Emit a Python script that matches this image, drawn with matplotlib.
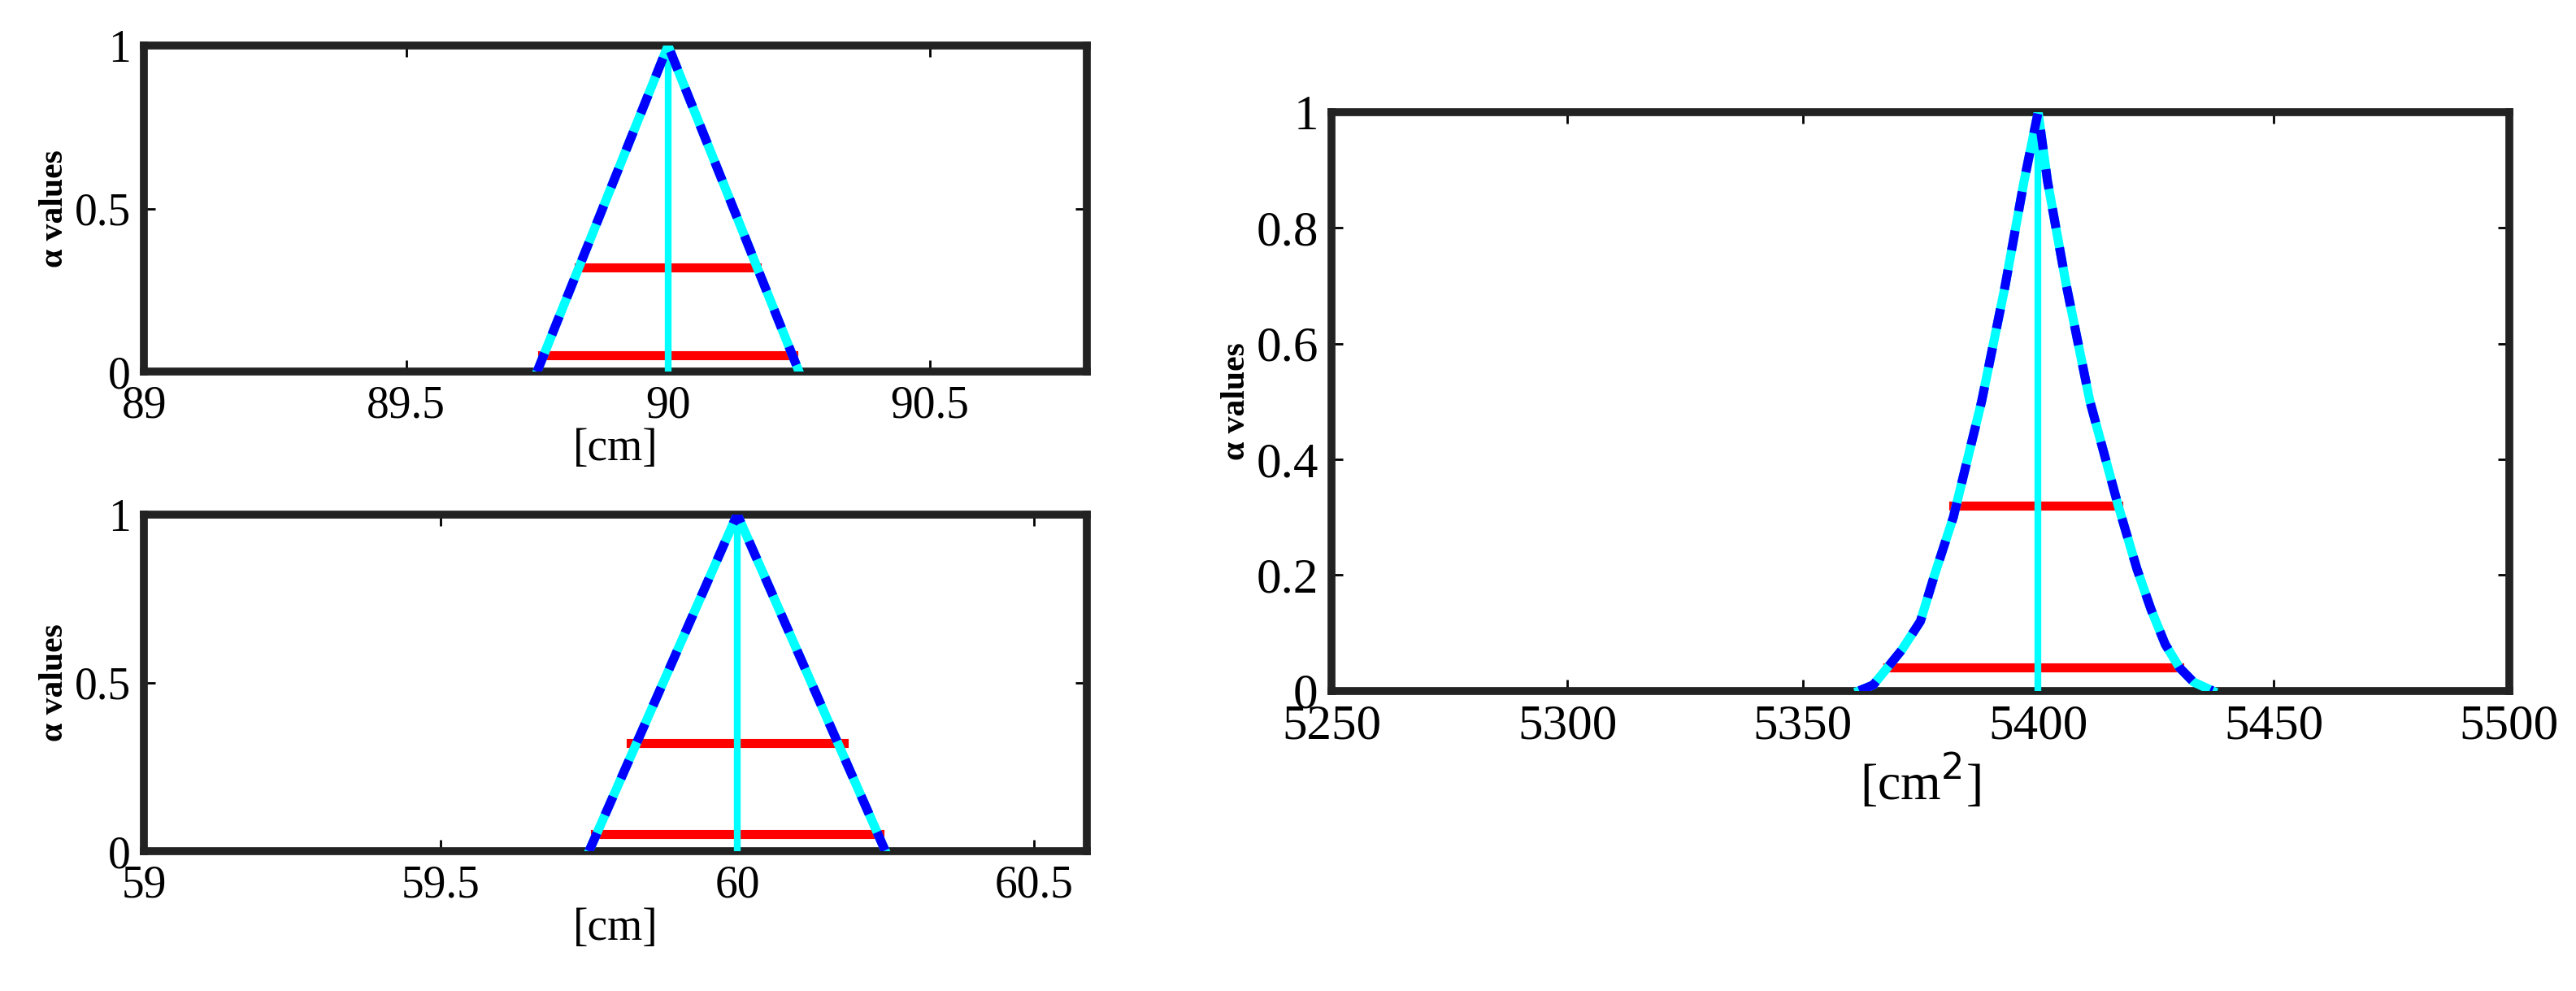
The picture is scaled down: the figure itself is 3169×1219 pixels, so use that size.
import matplotlib
matplotlib.use("Agg")
import matplotlib.pyplot as plt

plt.rcParams['font.family'] = ['Liberation Serif', 'DejaVu Serif']

# top-left: [cm]
tri1_x = [89.75, 90.0, 90.25]
tri1_a = [0, 1, 0]
cut1_a = [0.32, 0.05]
cut1_lo = [89.83, 89.76]
cut1_hi = [90.17, 90.24]
peak1 = 90.0

# bottom-left: [cm]
tri2_x = [59.75, 60.0, 60.25]
tri2_a = [0, 1, 0]
cut2_a = [0.32, 0.05]
cut2_lo = [59.82, 59.76]
cut2_hi = [60.18, 60.24]
peak2 = 60.0

# right: [cm^2]
area_x = [5362, 5365, 5368, 5371, 5375, 5378, 5382, 5388, 5393, 5397, 5400,
          5402, 5406, 5411, 5417, 5421, 5424, 5427, 5430, 5433, 5437]
area_a = [0, 0.01, 0.04, 0.07, 0.12, 0.20, 0.30, 0.50, 0.70, 0.88, 1.0,
          0.88, 0.70, 0.50, 0.32, 0.21, 0.14, 0.08, 0.04, 0.015, 0]
cut3_a = [0.32, 0.04]
cut3_lo = [5382, 5368]
cut3_hi = [5417, 5430]
peak3 = 5400

fig = plt.figure(figsize=(31.69, 12.19), dpi=100)
ax1 = fig.add_axes([0.056, 0.625, 0.366, 0.329])
ax2 = fig.add_axes([0.056, 0.141, 0.366, 0.340])
ax3 = fig.add_axes([0.517, 0.303, 0.457, 0.584])

FS = 40

def draw(ax, xs, a, lo, hi, ca, pk):
    for l, h, c in zip(lo, hi, ca):
        ax.plot([l, h], [c, c], color='red', lw=8, zorder=2)
    ax.plot([pk, pk], [0, 1], color='cyan', lw=6, zorder=3)
    ax.plot(xs, a, color='cyan', lw=8, zorder=4)
    ax.plot(xs, a, color='blue', lw=8, ls=(0, (2.2, 2.2)), zorder=5)
    ax.set_ylim(0, 1)
    ax.tick_params(direction='in', labelsize=FS, width=2, length=10, pad=12, top=True, right=True)
    for s in ax.spines.values():
        s.set_linewidth(7)
        s.set_color('#222222')
    ax.set_ylabel('α values', fontsize=30, fontweight='bold')

draw(ax1, tri1_x, tri1_a, cut1_lo, cut1_hi, cut1_a, peak1)
ax1.set_xlim(89, 90.8)
ax1.set_xticks([89, 89.5, 90, 90.5])
ax1.set_xticklabels(['89', '89.5', '90', '90.5'])
ax1.set_yticks([0, 0.5, 1])
ax1.set_yticklabels(['0', '0.5', '1'])
ax1.set_xlabel('[cm]', fontsize=FS, labelpad=0)

draw(ax2, tri2_x, tri2_a, cut2_lo, cut2_hi, cut2_a, peak2)
ax2.set_xlim(59, 60.59)
ax2.set_xticks([59, 59.5, 60, 60.5])
ax2.set_xticklabels(['59', '59.5', '60', '60.5'])
ax2.set_yticks([0, 0.5, 1])
ax2.set_yticklabels(['0', '0.5', '1'])
ax2.set_xlabel('[cm]', fontsize=FS, labelpad=0)

draw(ax3, area_x, area_a, cut3_lo, cut3_hi, cut3_a, peak3)
ax3.set_xlim(5250, 5500)
ax3.set_xticks([5250, 5300, 5350, 5400, 5450, 5500])
ax3.set_yticks([0, 0.2, 0.4, 0.6, 0.8, 1])
ax3.set_yticklabels(['0', '0.2', '0.4', '0.6', '0.8', '1'])
ax3.set_xlabel('[cm$^2$]', fontsize=FS + 6)
ax3.tick_params(labelsize=FS + 4)

fig.savefig('out.png', dpi=100)
